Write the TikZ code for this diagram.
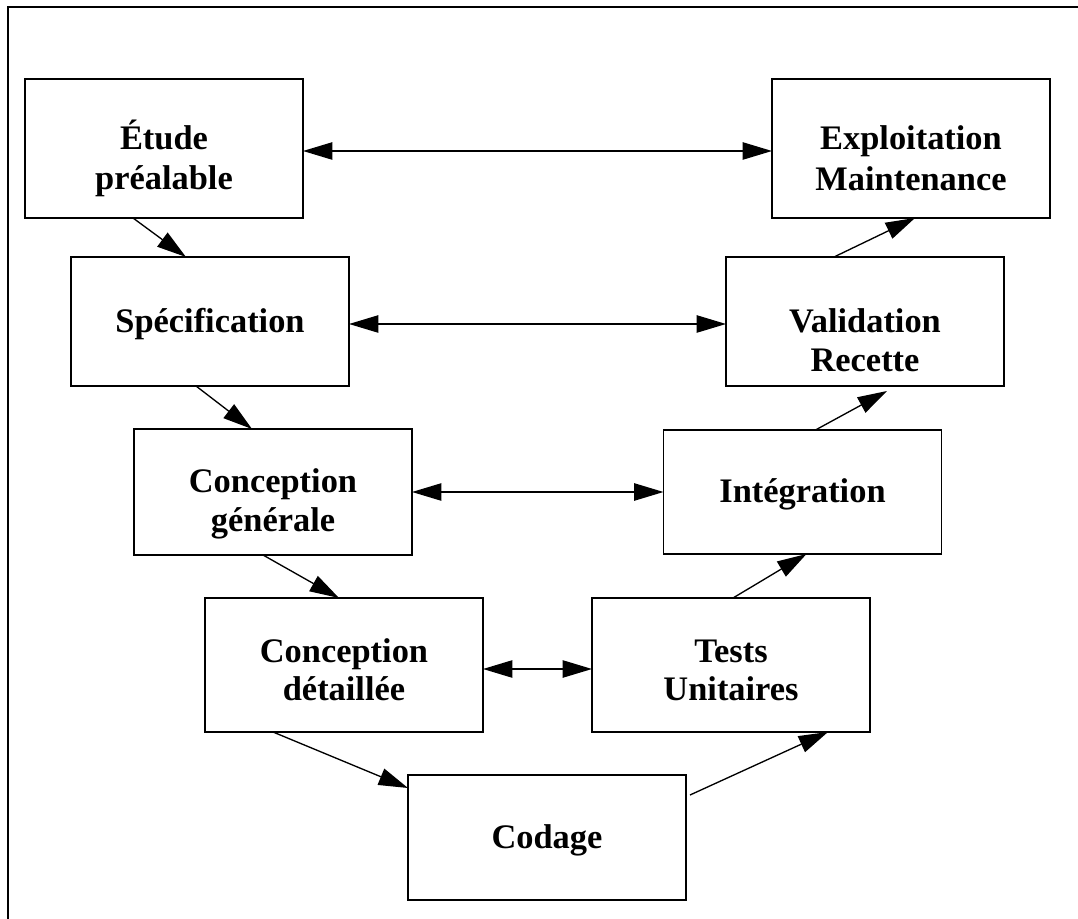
\documentclass[tikz,border=0pt]{standalone}
\usepackage{fontspec}
\setmainfont{Liberation Serif}
\usetikzlibrary{arrows.meta,calc}

\tikzset{
  phase/.style={draw, line width=1.3pt, rectangle, inner sep=0pt, outer sep=0pt,
                minimum width=208.5pt},
  lbl/.style={inner sep=0pt, anchor=base,
              font=\bfseries\fontsize{25.8pt}{30pt}\selectfont},
  flow/.style={line width=1pt, -{Triangle[length=22pt, width=13pt]}},
  link/.style={line width=1pt, {Triangle[length=22pt, width=13pt]}-{Triangle[length=22pt, width=13pt]}},
  frame/.style={line width=1.6pt}
}

\begin{document}
\begin{tikzpicture}[x=0.75pt, y=-0.75pt]
\useasboundingbox (0,0) rectangle (1078,919);

% page frame (top and left edges)
\coordinate (fa) at (1078,7);
\coordinate (fb) at (8,7);
\coordinate (fc) at (8,919);
\draw[frame] (fa) -- (fb) -- (fc);

% left branch of the V
\node[phase, minimum height=104.25pt] (etude)  at (164,148.5) {};
\node[phase, minimum height=96.75pt]  (spec)   at (210,321.5) {};
\node[phase, minimum height=94.5pt]   (cg)     at (273,492)   {};
\node[phase, minimum height=100.5pt]  (cd)     at (344,665)   {};
% bottom
\node[phase, minimum height=93.75pt]  (codage) at (547,837.5) {};
% right branch of the V
\node[phase, minimum height=100.5pt]  (tests)  at (731,665)   {};
\node[phase, minimum height=93pt]     (integ)  at (802.5,492) {};
\node[phase, minimum height=96.75pt]  (valid)  at (865,321.5) {};
\node[phase, minimum height=104.25pt] (exploit) at (911,148.5) {};

% labels
\node[lbl] (etude-a) at (164,150) {Étude};
\node[lbl] (etude-b) at (164,190) {préalable};
\node[lbl] (spec-a)  at (210,333) {Spécification};
\node[lbl] (cg-a)    at (273,493) {Conception};
\node[lbl] (cg-b)    at (273,532) {générale};
\node[lbl] (cd-a)    at (344,662) {Conception};
\node[lbl] (cd-b)    at (344,700) {détaillée};
\node[lbl] (codage-a) at (547,848) {Codage};
\node[lbl] (tests-a) at (731,662) {Tests};
\node[lbl] (tests-b) at (731,700) {Unitaires};
\node[lbl] (integ-a) at (802.5,503) {Intégration};
\node[lbl] (valid-a) at (865,333) {Validation};
\node[lbl] (valid-b) at (865,372) {Recette};
\node[lbl] (exploit-a) at (911,150) {Exploitation};
\node[lbl] (exploit-b) at (911,191) {Maintenance};

% descending flow
\draw[flow] ($(etude.south west)+(108,0)$) -- ($(spec.north west)+(115,0)$);
\draw[flow] ($(spec.south west)+(125,0)$) -- ($(cg.north west)+(118,0)$);
\draw[flow] ($(cg.south west)+(129,0)$) -- ($(cd.north west)+(134,0)$);
\draw[flow] ($(cd.south west)+(68,0)$) -- ($(codage.north west)+(0,13)$);

% ascending flow
\draw[flow] ($(codage.north east)+(4,20)$) -- ($(tests.south west)+(236,0)$);
\draw[flow] ($(tests.north west)+(141,0)$) -- ($(integ.south west)+(143,0)$);
\draw[flow] ($(integ.north west)+(152,0)$) -- ($(valid.south west)+(161,5)$);
\draw[flow] ($(valid.north west)+(108,0)$) -- ($(exploit.south west)+(143,0)$);

% correspondences between the two branches
\draw[link] ($(etude.east)+(0,2.5)$) -- ($(exploit.west)+(0,2.5)$);
\draw[link] ($(spec.east)+(0,2.5)$) -- ($(valid.west)+(0,2.5)$);
\draw[link] (cg.east) -- (integ.west);
\draw[link] ($(cd.east)+(0,4)$) -- ($(tests.west)+(0,4)$);
\end{tikzpicture}
\end{document}
